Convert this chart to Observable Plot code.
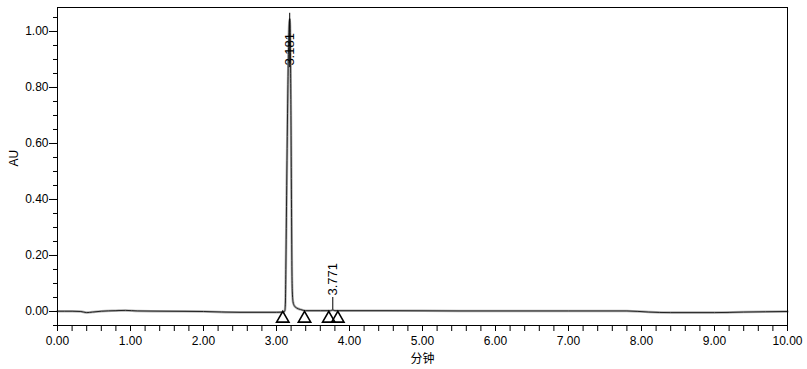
<!DOCTYPE html>
<html>
<head>
<meta charset="utf-8">
<script src="https://cdn.jsdelivr.net/npm/d3@7"></script>
<script src="https://cdn.jsdelivr.net/npm/@observablehq/plot@0.6"></script>
<style>
  html, body { margin: 0; padding: 0; background: #fff; }
  svg { display: block; }
</style>
</head>
<body>
<div id="chart"></div>
<script>
// Chromatogram trace (minutes, AU)
const time = [
  0.00, 0.20, 0.32, 0.40, 0.48, 0.60, 0.80, 0.93, 1.10, 1.50, 2.00, 2.50, 3.00,
  3.100, 3.115, 3.122, 3.128, 3.140, 3.155, 3.168, 3.181, 3.190, 3.198, 3.205,
  3.211, 3.217, 3.226, 3.245, 3.28, 3.33, 3.40,
  3.60, 3.74, 3.771, 3.80, 4.50, 5.50, 7.00, 7.80, 8.10, 8.40, 9.00, 9.40, 10.00
];
const au = [
  0.001, 0.001, 0.000, -0.004, -0.002, 0.001, 0.003, 0.004, 0.002, 0.001, 0.000, -0.003, -0.003,
  -0.002, 0.004, 0.03, 0.15, 0.45, 0.78, 0.98, 1.045, 0.96, 0.70, 0.40,
  0.16, 0.07, 0.035, 0.02, 0.012, 0.007, 0.003,
  0.003, 0.003, 0.005, 0.003, 0.003, 0.002, 0.002, 0.002, -0.002, -0.004, -0.004, -0.002, 0.000
];

// Peak labels
const peakTimes = [3.181, 3.771];
const peakLabels = ["3.181", "3.771"];
const peakApex = [1.065, 0.005];
const labelBase = [0.871, 0.05];

// Integration markers (peak start / end)
const markerTimes = [3.086, 3.384, 3.716, 3.840];
const markerLevel = [0, 0, 0, 0];

// Axis ticks
const xTicks = [0, 1, 2, 3, 4, 5, 6, 7, 8, 9, 10];
const xTickLabels = ["0.00","1.00","2.00","3.00","4.00","5.00","6.00","7.00","8.00","9.00","10.00"];
const yTicks = [0, 0.2, 0.4, 0.6, 0.8, 1.0];
const yTickLabels = ["0.00","0.20","0.40","0.60","0.80","1.00"];
const xMinor = d3.range(0, 10.001, 0.2);
const yMinor = d3.range(-0.05, 1.08, 0.05);

const trace = time.map((t, i) => ({t, v: au[i]}));
const peaks = peakTimes.map((t, i) => ({t, label: peakLabels[i], apex: peakApex[i], base: labelBase[i]}));
const markers = markerTimes.map((t, i) => ({t, v: markerLevel[i]}));

const font = "Liberation Sans, Arial, sans-serif";

const chart = Plot.plot({
  width: 807,
  height: 369,
  marginLeft: 57,
  marginRight: 20,
  marginTop: 7,
  marginBottom: 44,
  style: {fontFamily: font, fontSize: "12px", color: "#000", background: "#fff"},
  x: {domain: [0, 10]},
  y: {domain: [-0.05, 1.0857]},
  marks: [
    Plot.line(trace, {x: "t", y: "v", stroke: "#b0b0b0", strokeWidth: 2.5, curve: "monotone-x"}),
    Plot.line(trace, {x: "t", y: "v", stroke: "#222", strokeWidth: 1, curve: "monotone-x"}),
    Plot.ruleX(peaks, {x: "t", y1: "base", y2: "apex", stroke: "#000", strokeWidth: 1}),
    Plot.text(peaks, {x: "t", y: "base", text: "label", rotate: -90, textAnchor: "start", dx: 0, dy: -2, fontSize: 13, fill: "#000"}),
    Plot.dot(markers, {x: "t", y: "v", symbol: "triangle", r: 4.6, dy: 7, stroke: "#000", strokeWidth: 1.6, fill: "none"}),
    Plot.axisX({ticks: xMinor, tickSize: 6, tickFormat: null, text: null, label: null}),
    Plot.axisX({ticks: xTicks, tickSize: 6, tickPadding: 5, tickFormat: (d) => xTickLabels[xTicks.indexOf(d)], label: null, fontSize: 12}),
    Plot.axisY({ticks: yMinor, tickSize: 4, text: null, label: null}),
    Plot.axisY({ticks: yTicks, tickSize: 8, tickPadding: 1, tickFormat: (d) => yTickLabels[yTicks.indexOf(d)], label: null, fontSize: 12}),
    Plot.frame({stroke: "#000", strokeWidth: 1}),
    Plot.text(["AU"], {frameAnchor: "left", dx: -43, rotate: -90, text: d => d, fontSize: 12}),
    Plot.text(["分钟"], {frameAnchor: "bottom", dy: 37, text: d => d, fontSize: 12, fontFamily: "Noto Sans CJK SC, sans-serif"})
  ]
});
document.getElementById("chart").appendChild(chart);
</script>
</body>
</html>
